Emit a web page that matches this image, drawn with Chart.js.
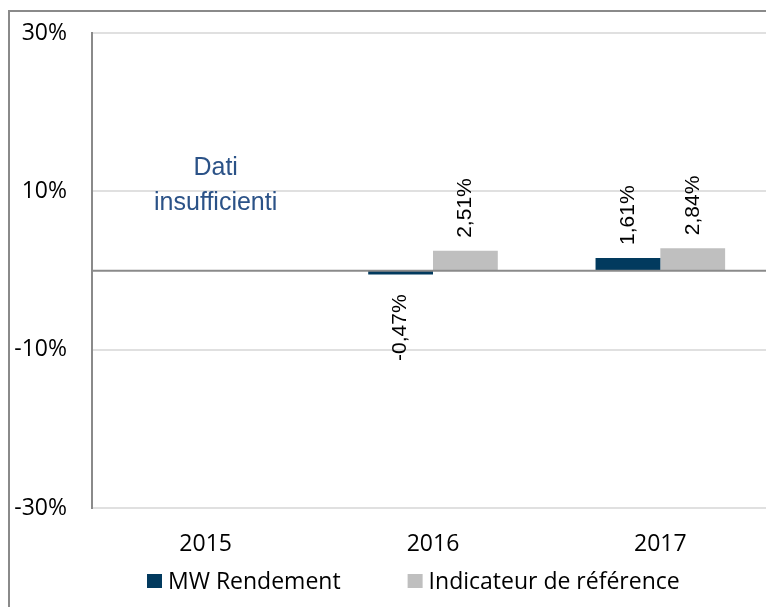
<!DOCTYPE html>
<html>
<head>
<meta charset="utf-8">
<script src="https://cdn.jsdelivr.net/npm/chart.js@4.4.1/dist/chart.umd.min.js"></script>
<style>
  html, body { margin: 0; padding: 0; width: 766px; height: 607px; overflow: hidden; background: #fff; }
  #frame { position: absolute; left: 8px; top: 10px; width: 820px; height: 700px; border: 2px solid #8a8a8a; }
  #myChart { position: absolute; left: 0; top: 0; }
</style>
</head>
<body>
<div id="frame"></div>
<canvas id="myChart" width="780" height="607"></canvas>
<script>
const years = ['2015', '2016', '2017'];
const mwRendement = [null, -0.47, 1.61];
const indicateur = [null, 2.51, 2.84];
const yTicks = [-30, -10, 10, 30];
const seriesNames = ['MW Rendement', 'Indicateur de référence'];
const noDataText = ['Dati', 'insufficienti'];

function fmt(v) { return v.toFixed(2).replace('.', ',') + '%'; }

// rotated value labels, zero line, "no data" note, legend
const extras = {
    id: 'extras',
    afterDatasetsDraw(chart) {
        const ctx = chart.ctx;
        const y = chart.scales.y;
        const x = chart.scales.x;
        const area = chart.chartArea;

        ctx.save();
        ctx.strokeStyle = '#8a8a8a';
        ctx.lineWidth = 2;
        ctx.beginPath();
        ctx.moveTo(area.left, y.getPixelForValue(0));
        ctx.lineTo(area.right, y.getPixelForValue(0));
        ctx.stroke();

        ctx.font = '21px "Liberation Sans", Arial, sans-serif';
        ctx.fillStyle = '#000';
        ctx.textBaseline = 'middle';
        chart.data.datasets.forEach(function (ds, i) {
            chart.getDatasetMeta(i).data.forEach(function (bar, j) {
                const v = ds.data[j];
                if (v === null) return;
                ctx.save();
                if (v >= 0) {
                    ctx.translate(bar.x, bar.y - 13);
                    ctx.textAlign = 'left';
                } else {
                    ctx.translate(bar.x, bar.y + 20);
                    ctx.textAlign = 'right';
                }
                ctx.rotate(-Math.PI / 2);
                ctx.fillText(fmt(v), 0, 0);
                ctx.restore();
            });
        });

        years.forEach(function (yr, j) {
            if (mwRendement[j] !== null || indicateur[j] !== null) return;
            ctx.font = '25px "Liberation Sans", Arial, sans-serif';
            ctx.fillStyle = '#2B5287';
            ctx.textAlign = 'center';
            const cx = x.getPixelForValue(j) + 10;
            ctx.fillText(noDataText[0], cx, 168);
            ctx.fillText(noDataText[1], cx, 203);
        });

        // legend
        ctx.font = '23px "Open Sans", sans-serif';
        ctx.textAlign = 'left';
        let lx = 147;
        const ly = 581;
        chart.data.datasets.forEach(function (ds) {
            ctx.fillStyle = ds.backgroundColor;
            ctx.fillRect(lx, ly - 7, 15, 14);
            ctx.fillStyle = '#000';
            ctx.fillText(ds.label, lx + 21, ly + 1);
            lx += 21 + ctx.measureText(ds.label).width + 67;
        });
        ctx.restore();
    }
};

const data = {
    labels: years,
    datasets: [{
        label: seriesNames[0],
        backgroundColor: '#023A5E',
        data: mwRendement,
    }, {
        label: seriesNames[1],
        backgroundColor: '#BFBFBF',
        data: indicateur,
    }]
};

const config = {
    type: 'bar',
    data: data,
    options: {
        responsive: false,
        animation: false,
        devicePixelRatio: 1,
        categoryPercentage: 0.57,
        barPercentage: 1,
        layout: { padding: { top: 33, right: 6, bottom: 27, left: 0 } },
        plugins: {
            legend: { display: false },
            tooltip: { enabled: false }
        },
        scales: {
            x: {
                grid: { display: false, drawTicks: false },
                border: { display: false },
                ticks: {
                    padding: 22,
                    color: '#000',
                    font: { family: '"Open Sans", sans-serif', size: 23 }
                }
            },
            y: {
                min: yTicks[0],
                max: yTicks[yTicks.length - 1],
                afterFit: function (s) { s.width = 92; s.paddingTop = 0; s.paddingBottom = 0; },
                afterBuildTicks: function (s) { s.ticks = yTicks.map(v => ({ value: v })); },
                grid: { color: '#e0e0e0', lineWidth: 2, drawTicks: false },
                border: { color: '#8a8a8a', width: 2 },
                ticks: {
                    padding: 25,
                    color: '#000',
                    font: { family: '"Open Sans", sans-serif', size: 23 },
                    callback: function (v) { return v + '%'; }
                }
            }
        }
    },
    plugins: [extras]
};

let myChart = new Chart(document.getElementById('myChart'), config);
</script>
</body>
</html>
